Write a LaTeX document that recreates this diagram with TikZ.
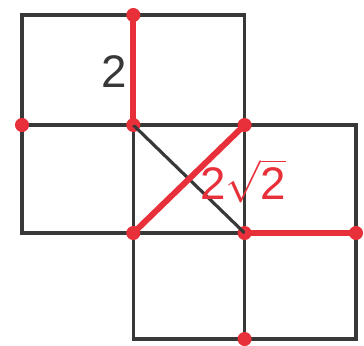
\documentclass[tikz,border=0pt]{standalone}
\usepackage{fontspec}
\setmainfont{Liberation Sans}
\usetikzlibrary{positioning}
\definecolor{segred}{HTML}{E8303A}
\definecolor{gridgray}{HTML}{383838}
\tikzstyle{cell} = [draw=gridgray, line width=0.9pt]
\tikzstyle{seg} = [draw=segred, line width=1.7pt]
\tikzstyle{dot} = [circle, fill=segred, inner sep=0pt, minimum size=4pt]
\tikzstyle{lbl} = [font=\fontsize{13}{15}\selectfont]

\begin{document}
\begin{tikzpicture}
\useasboundingbox (0,0) rectangle (3.64,3.45);

  % Draw the squares
\path[cell] (0.22,2.20) rectangle (1.333,3.30);
\path[cell] (1.333,2.20) rectangle (2.446,3.30);
\path[cell] (0.22,1.12) rectangle (1.333,2.20);
\path[cell] (1.333,1.12) rectangle (2.446,2.20);
\path[cell] (2.446,1.12) rectangle (3.56,2.20);
\path[cell] (1.333,0.06) rectangle (2.446,1.12);
\path[cell] (2.446,0.06) rectangle (3.56,1.12);

  % Marked points
\path (1.333,3.30) node (top)[dot] {};
\path (0.22,2.20) node (left)[dot] {};
\path (1.333,2.20) node (a)[dot] {};
\path (2.446,2.20) node (b)[dot] {};
\path (1.333,1.12) node (c)[dot] {};
\path (2.446,1.12) node (d)[dot] {};
\path (3.56,1.12) node (right)[dot] {};
\path (2.446,0.06) node (bottom)[dot] {};

  % Segments
\path[cell] (a.center) -- (d.center);
\path[seg] (top.center) -- (a.center);
\path[seg] (c.center) -- (b.center);
\path[seg] (d.center) -- (right.center);

  % Labels
\path (1.14,2.73) node (len1)[lbl, text=gridgray] {2};
\path (2.43,1.64) node (len2)[lbl, text=segred] {2$\sqrt{\mbox{2}}$};
\end{tikzpicture}
\end{document}
